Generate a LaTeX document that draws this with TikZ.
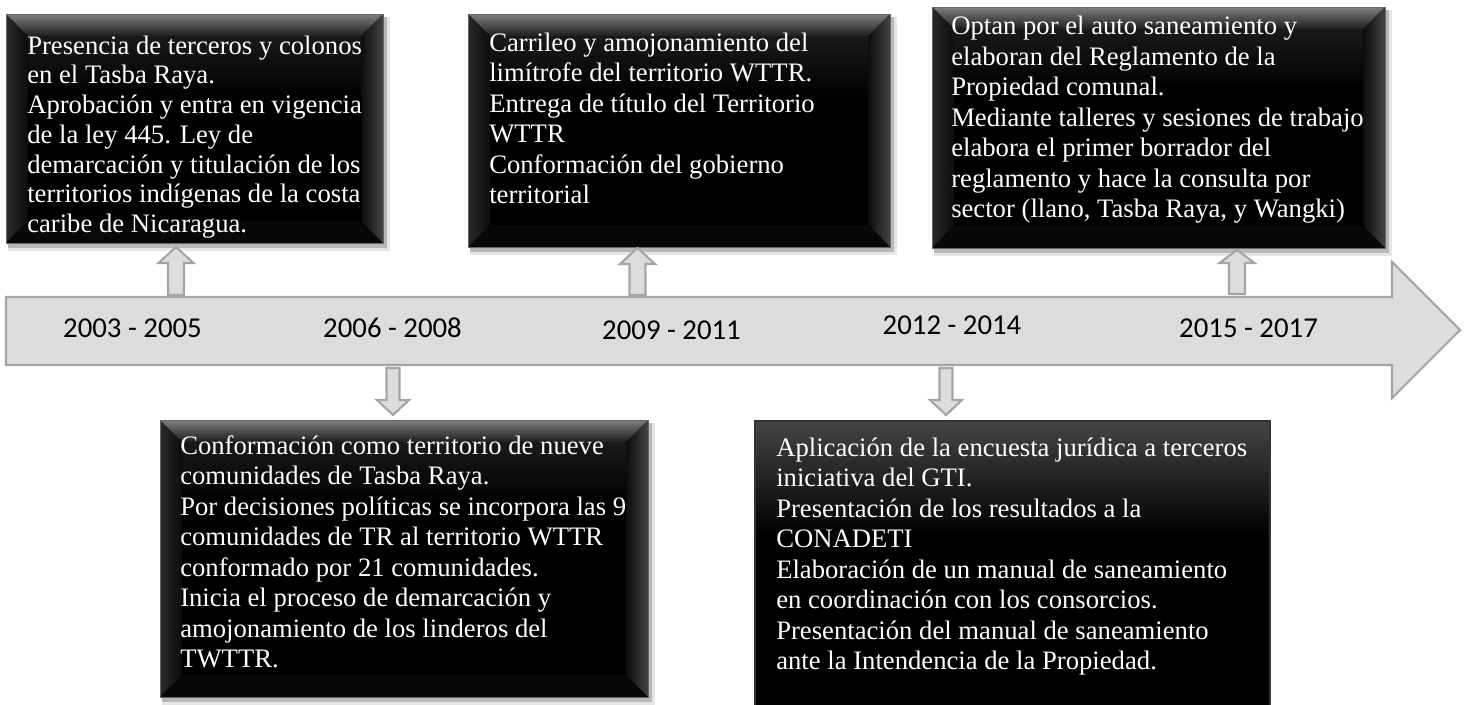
\documentclass[tikz,border=0pt]{standalone}
\usepackage{fontspec}
\setmainfont{Liberation Serif}
\newfontfamily\yearfont{Carlito}
\definecolor{arrfill}{HTML}{DCDCDC}
\definecolor{arrline}{HTML}{A5A5A5}
\definecolor{toptone}{HTML}{454545}
\definecolor{bevtop}{HTML}{7E7E7E}
\definecolor{bevtoplow}{HTML}{1E1E1E}
\definecolor{bevside}{HTML}{2A2A2A}
\definecolor{bevright}{HTML}{444444}
\definecolor{boxedge}{HTML}{666666}
\pgfdeclareverticalshading{tlshade}{100bp}{color(0bp)=(black); color(25bp)=(black); color(58bp)=(black); color(75bp)=(toptone); color(100bp)=(toptone)}
\tikzset{
  x=0.75pt, y=-0.75pt,
  blockarrow/.style={fill=arrfill, draw=arrline, line width=1.6pt, line join=miter},
  boxtext/.style={text=white, inner sep=0pt, align=left, anchor=north west, font=\fontsize{20}{22.9}\selectfont},
  yearlabel/.style={inner sep=0pt, anchor=base, font=\yearfont\fontsize{21.6}{24}\selectfont},
}
% bevelled black box: x0,y0,x1,y1
\newcommand{\bevbox}[4]{%
  \fill[black, opacity=0.10] (#1+2,#2+3) rectangle (#3+7,#4+8);
  \fill[black, opacity=0.20] (#1+2,#2+3) rectangle (#3+4,#4+5);
  \shade[shading=tlshade] (#1,#2) rectangle (#3,#4);
  \shade[top color=bevtop, bottom color=bevtoplow] (#1,#2) -- (#3,#2) -- (#3-22,#2+22) -- (#1+22,#2+22) -- cycle;
  \shade[left color=bevside, right color=black!95] (#1,#2) -- (#1+22,#2+22) -- (#1+22,#4-22) -- (#1,#4) -- cycle;
  \shade[left color=black!95, right color=bevright] (#3,#2) -- (#3,#4) -- (#3-22,#4-22) -- (#3-22,#2+22) -- cycle;
  \fill[black!97] (#1,#4) -- (#1+22,#4-22) -- (#3-22,#4-22) -- (#3,#4) -- cycle;
  \shade[top color=black!90, bottom color=black] (#1+22,#2+22) rectangle (#3-22,#2+85);
  \fill[black] (#1+22,#2+85) rectangle (#3-22,#4-22);
  \draw[boxedge, line width=0.6pt] (#1,#2) rectangle (#3,#4);
}
% up block arrow: cx, tip, head base, bottom
\newcommand{\upblock}[4]{%
  \draw[blockarrow] (#1-8,#4) -- (#1-8,#3) -- (#1-17.5,#3) -- (#1,#2) -- (#1+17.5,#3) -- (#1+8,#3) -- (#1+8,#4) -- cycle;
}
% down block arrow: cx, top, head base, tip
\newcommand{\downblock}[4]{%
  \draw[blockarrow] (#1-6.5,#2) -- (#1+6.5,#2) -- (#1+6.5,#3) -- (#1+16,#3) -- (#1,#4) -- (#1-16,#3) -- (#1-6.5,#3) -- cycle;
}
\begin{document}
\begin{tikzpicture}
\useasboundingbox (0,0) rectangle (1469,704);
\fill[white] (0,0) rectangle (1469,704);

% timeline arrow
\draw[blockarrow] (6,297) -- (1392,297) -- (1392,262) -- (1460,330) -- (1392,398) -- (1392,365) -- (6,365) -- cycle;

% boxes
\bevbox{6}{14}{383}{243}
\bevbox{468}{14}{890}{247}
\bevbox{932}{7}{1385}{248}
\bevbox{160}{420}{648}{697}
\shade[shading=tlshade] (755,421) rectangle (1270,760);
\draw[black!80, line width=0.8pt] (755,760) -- (755,421) -- (1270,421) -- (1270,760);

% small arrows
\upblock{176}{247}{263}{295}
\upblock{637.5}{248}{264}{295}
\upblock{1237}{250}{263}{294}
\downblock{393}{368}{400}{415}
\downblock{946}{368}{400}{415}

% year labels
\node[yearlabel] (y1) at (132.5,337) {2003 - 2005};
\node[yearlabel] (y2) at (392.5,337) {2006 - 2008};
\node[yearlabel] (y3) at (671.5,339) {2009 - 2011};
\node[yearlabel] (y4) at (952,334) {2012 - 2014};
\node[yearlabel] (y5) at (1248.5,337) {2015 - 2017};

% texts
\node[boxtext, font=\fontsize{20}{22.3}\selectfont] (t1) at (27,33) {\strut Presencia de terceros y colonos\\
en el Tasba Raya.\\
Aprobación y entra en vigencia\\
de la ley 445. Ley de\\
demarcación y titulación de los\\
territorios indígenas de la costa\\
caribe de Nicaragua.};

\node[boxtext] (t2) at (180,432.5) {\strut Conformación como territorio de nueve\\
comunidades de Tasba Raya.\\
Por decisiones políticas se incorpora las 9\\
comunidades de TR al territorio WTTR\\
conformado por 21 comunidades.\\
Inicia el proceso de demarcación y\\
amojonamiento de los linderos del\\
TWTTR.};

\node[boxtext] (t3) at (489,29.5) {\strut Carrileo y amojonamiento del\\
limítrofe del territorio WTTR.\\
Entrega de título del Territorio\\
WTTR\\
Conformación del gobierno\\
territorial};

\node[boxtext] (t4) at (776,434.5) {\strut Aplicación de la encuesta jurídica a terceros\\
iniciativa del GTI.\\
Presentación de los resultados a la\\
CONADETI\\
Elaboración de un manual de saneamiento\\
en coordinación con los consorcios.\\
Presentación del manual de saneamiento\\
ante la Intendencia de la Propiedad.};

\node[boxtext] (t5) at (951,13) {\strut Optan por el auto saneamiento y\\
elaboran del Reglamento de la\\
Propiedad comunal.\\
Mediante talleres y sesiones de trabajo\\
elabora el primer borrador del\\
reglamento y hace la consulta por\\
sector (llano, Tasba Raya, y Wangki)};
\end{tikzpicture}
\end{document}
